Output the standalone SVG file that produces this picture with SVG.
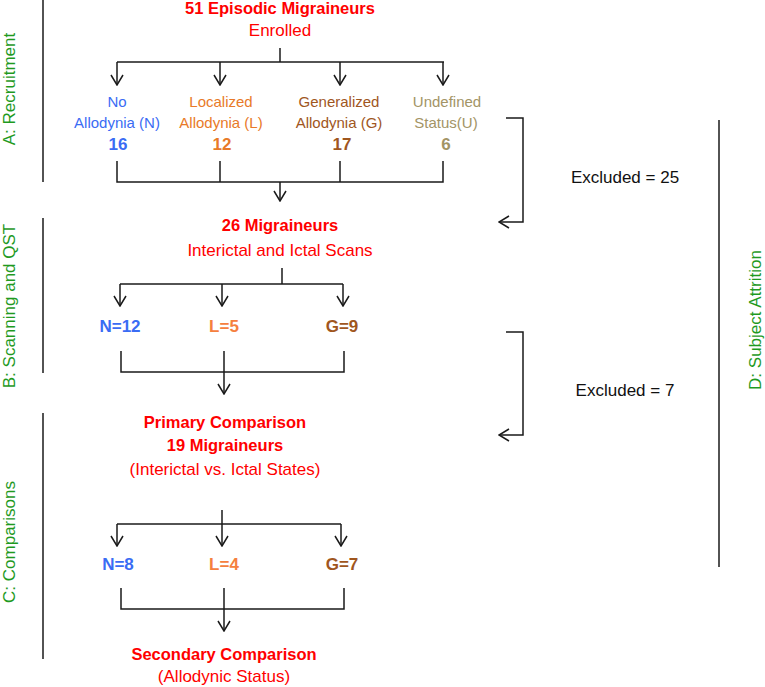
<svg xmlns="http://www.w3.org/2000/svg" width="765" height="687" viewBox="0 0 765 687">
<style>
text{font-family:"Liberation Sans",Arial,sans-serif;text-anchor:middle}
.t{fill:#ff0000;font-size:17px}
.tb{fill:#ff0000;font-size:16.5px;font-weight:bold}
.lbl{font-size:15px}
.num{font-size:17px;font-weight:bold}
.sec{fill:#1f9a1f;font-size:17px}
.ex{fill:#111;font-size:17px}
.n{fill:#3a6cf4}.l{fill:#e87a28}.l2{fill:#f5803e}.g{fill:#a0561e}.u{fill:#a39466}
.c line,.c polyline{stroke:#1a1a1a;stroke-width:1.5;fill:none}
.c .a{marker-end:url(#ah)}
</style>
<defs>
<marker id="ah" viewBox="0 0 12 14" refX="11" refY="7" markerWidth="12" markerHeight="14" markerUnits="userSpaceOnUse" orient="auto">
<path d="M1,1 L11,7 L1,13" fill="none" stroke="#1a1a1a" stroke-width="1.5"/>
</marker>
</defs>
<rect width="765" height="687" fill="#fff"/>
<g id="sections">
<line x1="43" y1="0" x2="43" y2="182" stroke="#1a1a1a" stroke-width="1.5"/>
<line x1="43" y1="218" x2="43" y2="373" stroke="#1a1a1a" stroke-width="1.5"/>
<line x1="43" y1="413" x2="43" y2="659" stroke="#1a1a1a" stroke-width="1.5"/>
<line x1="719" y1="120" x2="719" y2="567" stroke="#1a1a1a" stroke-width="1.5"/>
<text class="sec" transform="translate(15,89) rotate(-90)">A: Recruitment</text>
<text class="sec" transform="translate(15,306) rotate(-90)">B: Scanning and QST</text>
<text class="sec" transform="translate(15,542) rotate(-90)">C: Comparisons</text>
<text class="sec" transform="translate(761,320) rotate(-90)">D: Subject Attrition</text>
</g>
<g id="enrolled">
<text class="tb" x="280" y="14">51 Episodic Migraineurs</text>
<text class="t" x="280" y="36">Enrolled</text>
</g>
<g id="recN"><text class="lbl n" x="117" y="107">No</text><text class="lbl n" x="117" y="128">Allodynia (N)</text><text class="num n" x="118" y="150">16</text></g>
<g id="recL"><text class="lbl l" x="221" y="107">Localized</text><text class="lbl l" x="221" y="128">Allodynia (L)</text><text class="num l" x="222" y="150">12</text></g>
<g id="recG"><text class="lbl g" x="339" y="107">Generalized</text><text class="lbl g" x="339" y="128">Allodynia (G)</text><text class="num g" x="342" y="150">17</text></g>
<g id="recU"><text class="lbl u" x="447" y="107">Undefined</text><text class="lbl u" x="446" y="128">Status(U)</text><text class="num u" x="446" y="150">6</text></g>
<g id="scan">
<text class="tb" x="280" y="231">26 Migraineurs</text>
<text class="t" x="280" y="256">Interictal and Ictal Scans</text>
</g>
<g id="scanN"><text class="num n" x="120" y="332">N=12</text></g>
<g id="scanL"><text class="num l2" x="224" y="332">L=5</text></g>
<g id="scanG"><text class="num g" x="342" y="332">G=9</text></g>
<g id="excl1"><text class="ex" x="625" y="183">Excluded = 25</text></g>
<g id="excl2"><text class="ex" x="625" y="396">Excluded = 7</text></g>
<g id="primary">
<text class="tb" x="225" y="428">Primary Comparison</text>
<text class="tb" x="225" y="451">19 Migraineurs</text>
<text class="t" x="225" y="475">(Interictal vs. Ictal States)</text>
</g>
<g id="compN"><text class="num n" x="118" y="570">N=8</text></g>
<g id="compL"><text class="num l2" x="224" y="570">L=4</text></g>
<g id="compG"><text class="num g" x="342" y="570">G=7</text></g>
<g id="secondary">
<text class="tb" x="224" y="660">Secondary Comparison</text>
<text class="t" x="224" y="682">(Allodynic Status)</text>
</g>
<g id="connectors" class="c">
<line x1="280" y1="48" x2="280" y2="62"/>
<line x1="117" y1="62" x2="444" y2="62"/>
<line class="a" x1="117" y1="62" x2="117" y2="85"/>
<line class="a" x1="220" y1="62" x2="220" y2="85"/>
<line class="a" x1="340" y1="62" x2="340" y2="85"/>
<line class="a" x1="443" y1="62" x2="443" y2="85"/>
<polyline points="117,161 117,182 443,182 443,161"/>
<line x1="220" y1="161" x2="220" y2="182"/>
<line x1="340" y1="161" x2="340" y2="182"/>
<line class="a" x1="280" y1="182" x2="280" y2="201"/>
<polyline class="a" points="506,118 523,118 523,222 499,222"/>
<line x1="282" y1="268" x2="282" y2="284"/>
<line x1="120" y1="284" x2="343" y2="284"/>
<line class="a" x1="120" y1="284" x2="120" y2="306"/>
<line class="a" x1="222" y1="284" x2="222" y2="306"/>
<line class="a" x1="343" y1="284" x2="343" y2="306"/>
<polyline points="121,351 121,372 344,372 344,351"/>
<line x1="224" y1="351" x2="224" y2="372"/>
<line class="a" x1="224" y1="372" x2="224" y2="394"/>
<polyline class="a" points="506,332 523,332 523,435 499,435"/>
<line x1="117" y1="524" x2="341" y2="524"/>
<line class="a" x1="222" y1="510" x2="222" y2="546"/>
<line class="a" x1="117" y1="524" x2="117" y2="546"/>
<line class="a" x1="341" y1="524" x2="341" y2="546"/>
<polyline points="121,588 121,609 344,609 344,588"/>
<line x1="224" y1="588" x2="224" y2="609"/>
<line class="a" x1="224" y1="609" x2="224" y2="631"/>
</g>
</svg>
